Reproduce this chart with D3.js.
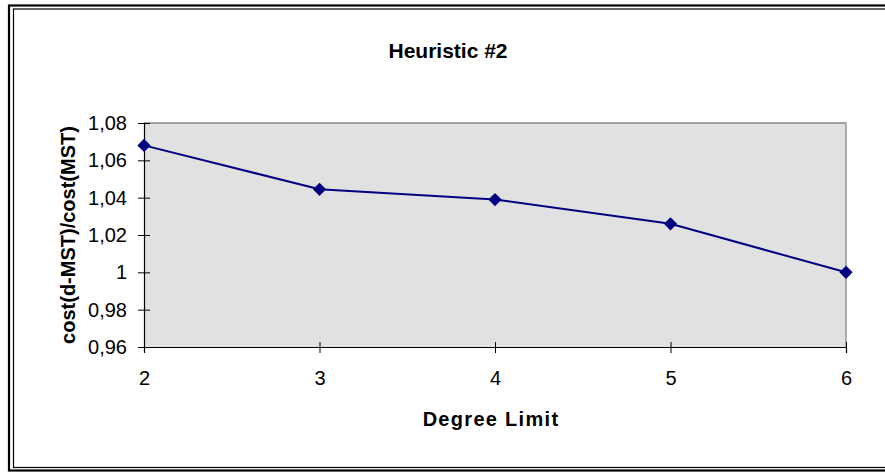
<!DOCTYPE html>
<html>
<head>
<meta charset="utf-8">
<script src="https://cdn.jsdelivr.net/npm/d3@7"></script>
<style>
	html, body { margin: 0; padding: 0; background: #fff; }
	svg { display: block; font-family: Arial, "Liberation Sans", sans-serif; }
</style>
</head>
<body>
<svg id="chart"></svg>
<script>
	'use strict';
	// values
	var degreeLimits = [2, 3, 4, 5, 6];
	var costRatio = [1.068, 1.0445, 1.039, 1.026, 1.0];
	var yTickValues = [0.96, 0.98, 1.0, 1.02, 1.04, 1.06, 1.08];
	var titleText = 'Heuristic #2';
	var xLabelText = 'Degree Limit';
	var yLabelText = 'cost(d-MST)/cost(MST)';

	var width = 885, height = 472;
	var plot = {left: 144, right: 846, top: 123, bottom: 347};

	var svg = d3.select('#chart')
		.attr('width', width)
		.attr('height', height);

	// double frame round the chart (right side runs off the picture)
	svg.append('rect')
		.attr('x', 9).attr('y', 5.5)
		.attr('width', 900).attr('height', 465)
		.attr('fill', 'none').attr('stroke', '#000').attr('stroke-width', 2.2);
	svg.append('rect')
		.attr('x', 13.5).attr('y', 9)
		.attr('width', 900).attr('height', 458.5)
		.attr('fill', 'none').attr('stroke', '#000').attr('stroke-width', 1.2);

	var x = d3.scaleLinear()
		.domain([2, 6])
		.range([plot.left, plot.right]);
	var y = d3.scaleLinear()
		.domain([0.96, 1.08])
		.range([plot.bottom, plot.top]);

	// plot area
	svg.append('rect')
		.attr('x', plot.left).attr('y', plot.top)
		.attr('width', plot.right - plot.left)
		.attr('height', plot.bottom - plot.top)
		.attr('fill', '#e1e1e1');
	svg.append('path')
		.attr('d', 'M' + plot.left + ',' + plot.top + 'H' + plot.right + 'V' + plot.bottom)
		.attr('fill', 'none')
		.attr('stroke', '#888')
		.attr('stroke-width', 1.3);

	function commaFormat(v) {
		return d3.format('~g')(v).replace('.', ',');
	}

	var yAxis = svg.append('g')
		.attr('transform', 'translate(' + plot.left + ',0)')
		.call(d3.axisLeft(y).tickValues(yTickValues).tickFormat(commaFormat)
			.tickSize(6).tickPadding(11));
	yAxis.selectAll('.tick line').attr('x1', -6).attr('x2', 6);

	var xAxis = svg.append('g')
		.attr('transform', 'translate(0,' + plot.bottom + ')')
		.call(d3.axisBottom(x).tickValues(degreeLimits).tickFormat(d3.format('d'))
			.tickSize(6).tickPadding(18));
	xAxis.selectAll('.tick line').attr('y1', -5).attr('y2', 6);

	[yAxis, xAxis].forEach(function (ax) {
		ax.select('.domain').attr('stroke', '#000').attr('stroke-width', 1.2);
		ax.selectAll('.tick line').attr('stroke', '#000');
		ax.selectAll('.tick text')
			.attr('font-family', 'Arial, "Liberation Sans", sans-serif')
			.attr('font-size', 20)
			.attr('fill', '#000');
	});

	var data = degreeLimits.map(function (d, i) {
		return {x: d, y: costRatio[i]};
	});

	var line = d3.line()
		.x(function (d) { return x(d.x); })
		.y(function (d) { return y(d.y); });

	svg.append('path')
		.datum(data)
		.attr('fill', 'none')
		.attr('stroke', '#000080')
		.attr('stroke-width', 2)
		.attr('d', line);

	svg.selectAll('.marker')
		.data(data)
		.enter().append('path')
		.attr('class', 'marker')
		.attr('d', d3.symbol(d3.symbolSquare, 88))
		.attr('transform', function (d) {
			return 'translate(' + x(d.x) + ',' + y(d.y) + ') rotate(45)';
		})
		.attr('fill', '#000080');

	// titles
	svg.append('text')
		.attr('x', 448).attr('y', 58)
		.attr('text-anchor', 'middle')
		.attr('font-size', 21).attr('font-weight', 'bold')
		.text(titleText);

	svg.append('text')
		.attr('x', 491).attr('y', 426)
		.attr('text-anchor', 'middle')
		.attr('font-size', 20).attr('font-weight', 'bold')
		.attr('letter-spacing', 1.3)
		.text(xLabelText);

	svg.append('text')
		.attr('transform', 'translate(75,' + ((plot.top + plot.bottom) / 2) + ') rotate(-90)')
		.attr('text-anchor', 'middle')
		.attr('font-size', 20).attr('font-weight', 'bold')
		.text(yLabelText);
</script>
</body>
</html>
